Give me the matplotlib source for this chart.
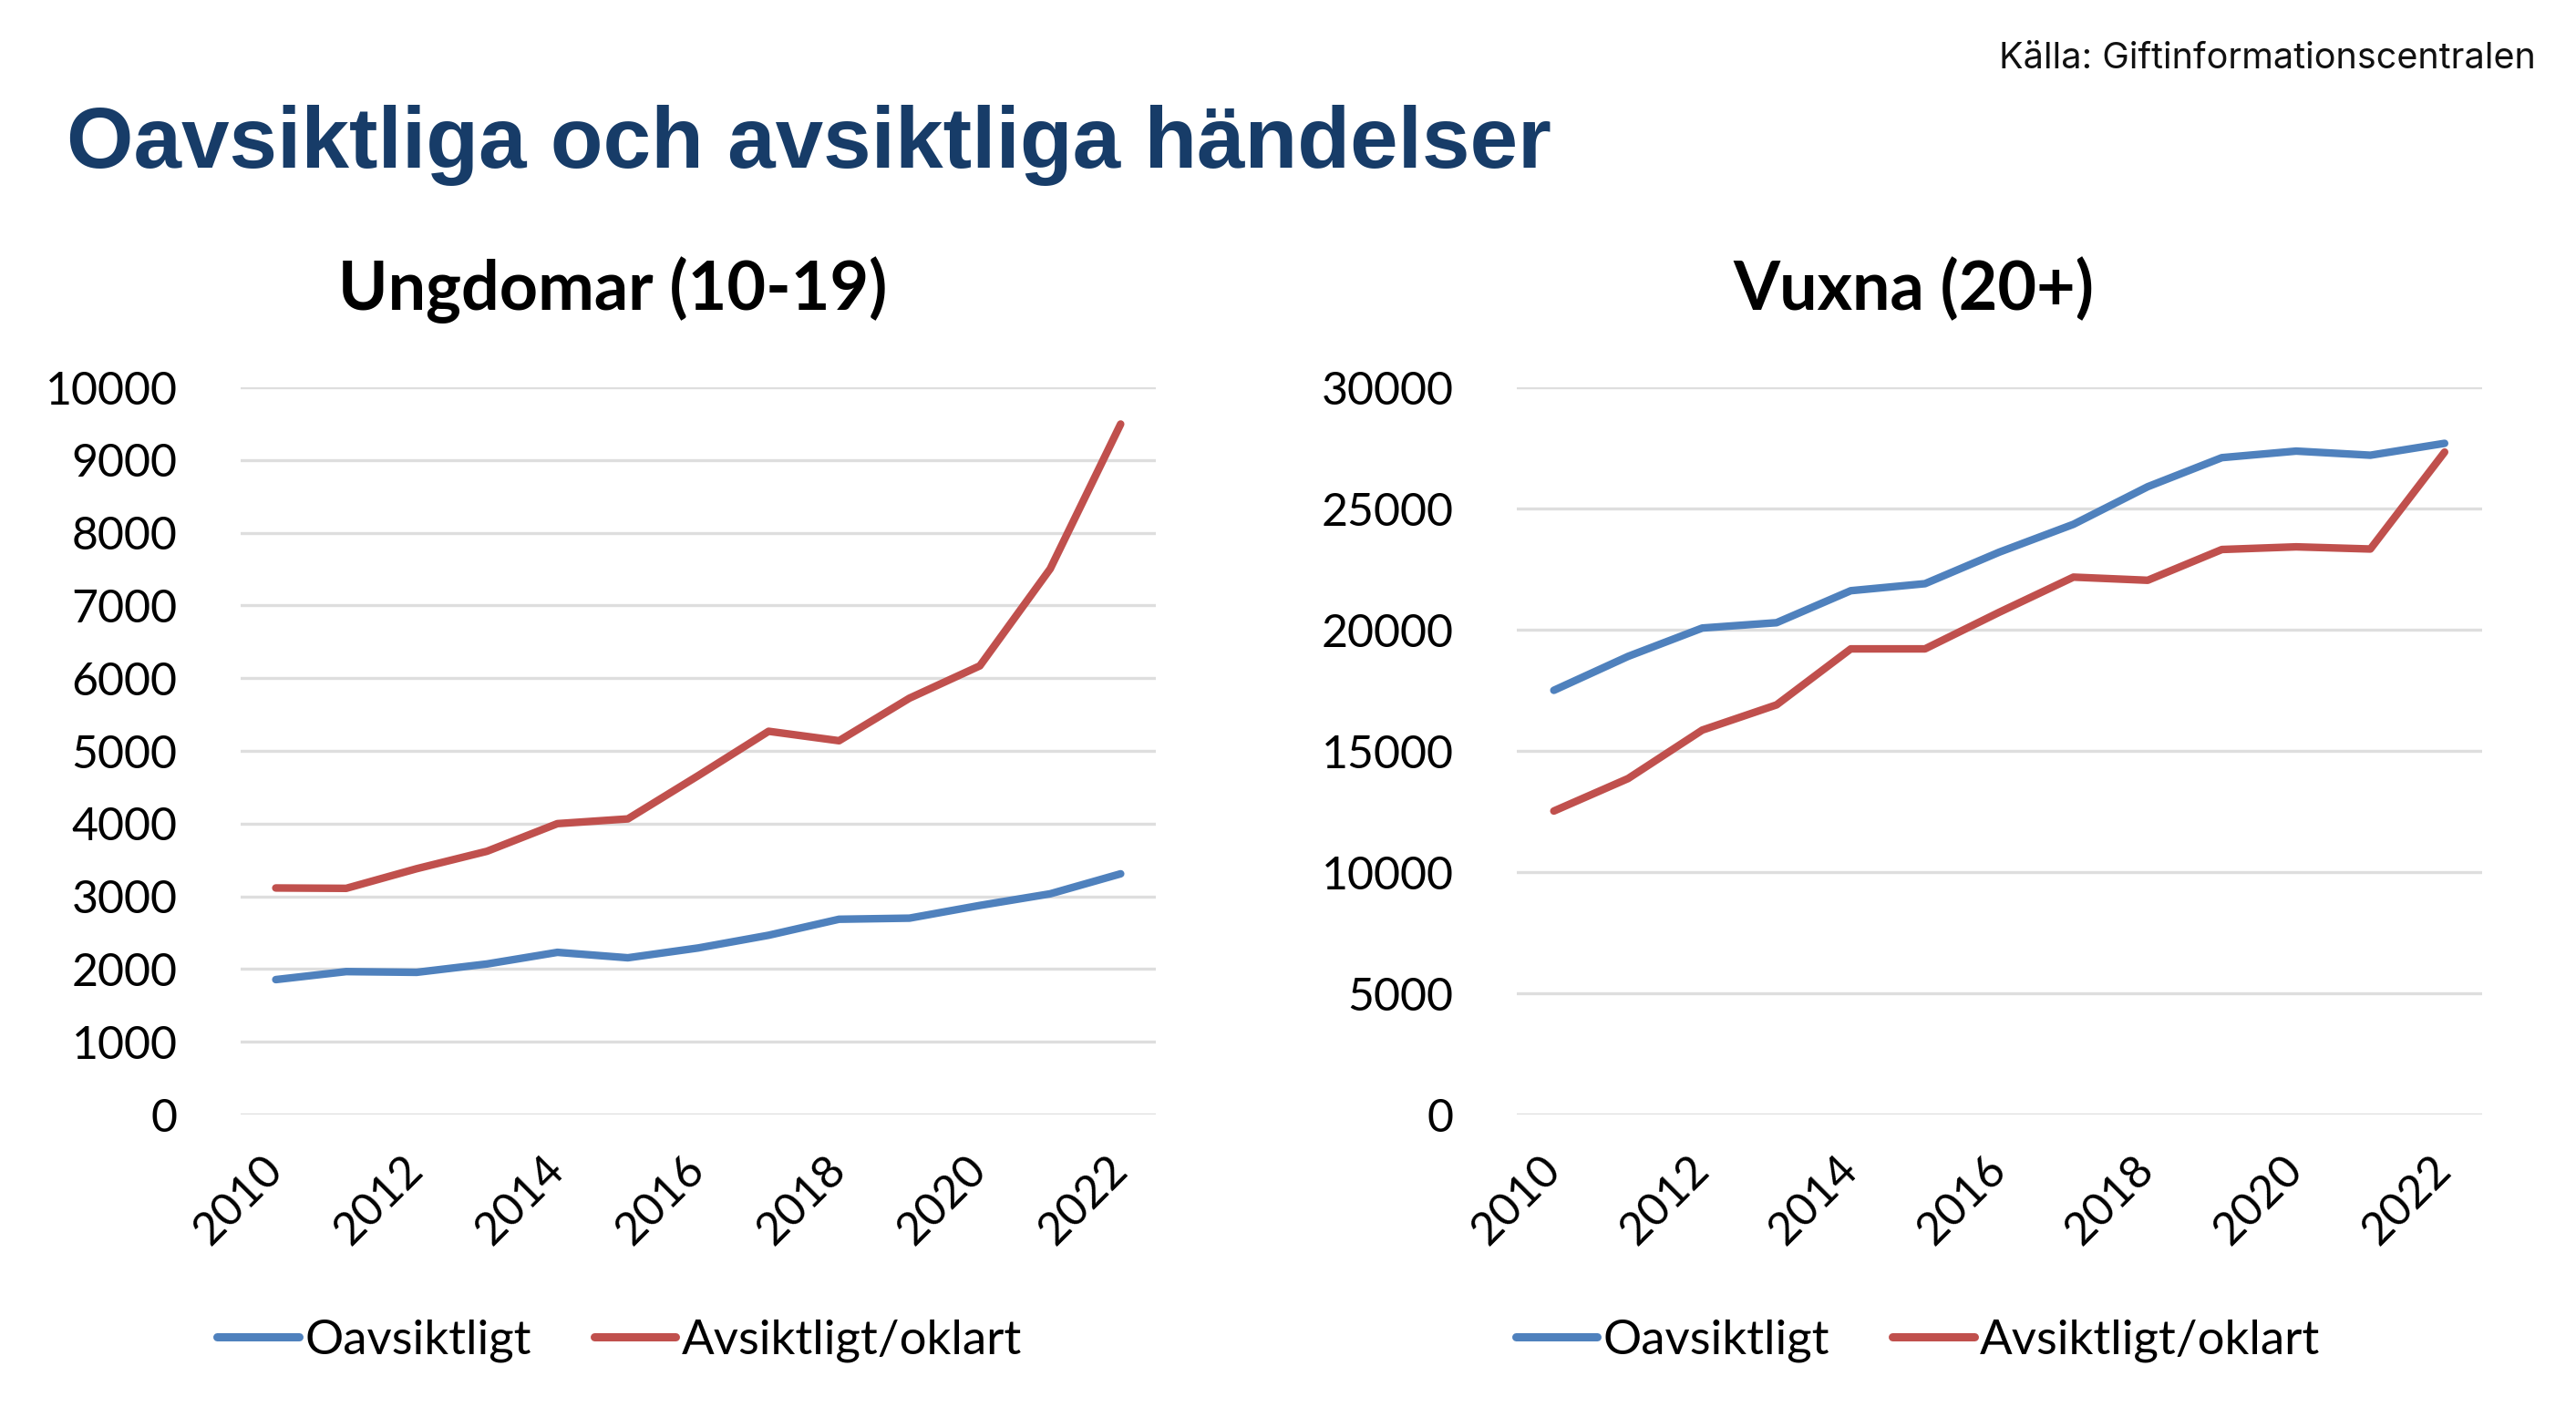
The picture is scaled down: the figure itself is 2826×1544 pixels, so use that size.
import matplotlib
matplotlib.use("Agg")
import matplotlib.pyplot as plt
import numpy as np

years = list(range(2010, 2023))
tick_years = [str(y) if y % 2 == 0 else "" for y in years]

# Ungdomar (10-19)
youth_unintended = [1855, 1965, 1955, 2070, 2230, 2155, 2290, 2465, 2685, 2700, 2875, 3035, 3310]
youth_intended = [3115, 3110, 3380, 3620, 4000, 4065, 4660, 5270, 5140, 5725, 6170, 7505, 9495]

# Vuxna (20+)
adult_unintended = [17500, 18900, 20070, 20290, 21610, 21900, 23200, 24350, 25900, 27100, 27370, 27200, 27690]
adult_intended = [12520, 13860, 15860, 16900, 19210, 19210, 20720, 22170, 22040, 23310, 23420, 23330, 27330]

series_labels = ["Oavsiktligt", "Avsiktligt/oklart"]
BLUE = "#4f81bd"
RED = "#c0504d"
GRID = "#dedede"
FONT = "Lato"

fig = plt.figure(figsize=(28.26, 15.44), dpi=100)

fig.text(0.026, 0.8808, "Oavsiktliga och avsiktliga händelser", fontsize=68,
         fontweight="bold", color="#173c68", family="Liberation Sans",
         ha="left", va="baseline")
fig.text(0.9845, 0.9514, "Källa: Giftinformationscentralen", fontsize=28.5,
         family="Inter", ha="right", va="baseline", color="#111111")

panels = [
    dict(rect=[0.0934, 0.2079, 0.3553, 0.5168], title="Ungdomar (10-19)", cx=0.238,
         leg_x=0.2405, a=youth_unintended, b=youth_intended, ymax=10000, step=1000),
    dict(rect=[0.5888, 0.2079, 0.3746, 0.5168], title="Vuxna (20+)", cx=0.743,
         leg_x=0.7445, a=adult_unintended, b=adult_intended, ymax=30000, step=5000),
]

x = np.arange(len(years))
for p in panels:
    ax = fig.add_axes(p["rect"])
    ax.plot(x, p["a"], color=BLUE, lw=6, label=series_labels[0], clip_on=False,
            solid_capstyle="round", solid_joinstyle="round")
    ax.plot(x, p["b"], color=RED, lw=6, label=series_labels[1], clip_on=False,
            solid_capstyle="round", solid_joinstyle="round")
    ax.set_xlim(-0.5, len(years) - 0.5)
    ax.set_ylim(0, p["ymax"])
    ax.set_yticks(np.arange(0, p["ymax"] + 1, p["step"]))
    ax.yaxis.grid(True, color=GRID, lw=2.4)
    ax.set_axisbelow(True)
    for s in ax.spines.values():
        s.set_visible(False)
    ax.tick_params(axis="both", length=0, labelsize=36)
    ax.tick_params(axis="y", pad=50)
    ax.tick_params(axis="x", pad=38)
    ax.set_xticks(x)
    ax.set_xticklabels(tick_years, rotation=45, ha="right", va="center",
                       rotation_mode="anchor")
    for lab in ax.get_xticklabels() + ax.get_yticklabels():
        lab.set_family(FONT)
    fig.text(p["cx"], 0.7798, p["title"], fontsize=53, fontweight="bold",
             family=FONT, ha="center", va="baseline")
    leg = ax.legend(loc="center", bbox_to_anchor=(p["leg_x"], 0.047),
                    bbox_transform=fig.transFigure, ncol=2, frameon=False,
                    prop={"family": FONT, "size": 38}, handlelength=1.7,
                    handletextpad=0.12, columnspacing=1.3)
    for h in leg.get_lines():
        h.set_linewidth(6.5)
        h.set_solid_capstyle("round")

fig.savefig("out.png", dpi=100)
